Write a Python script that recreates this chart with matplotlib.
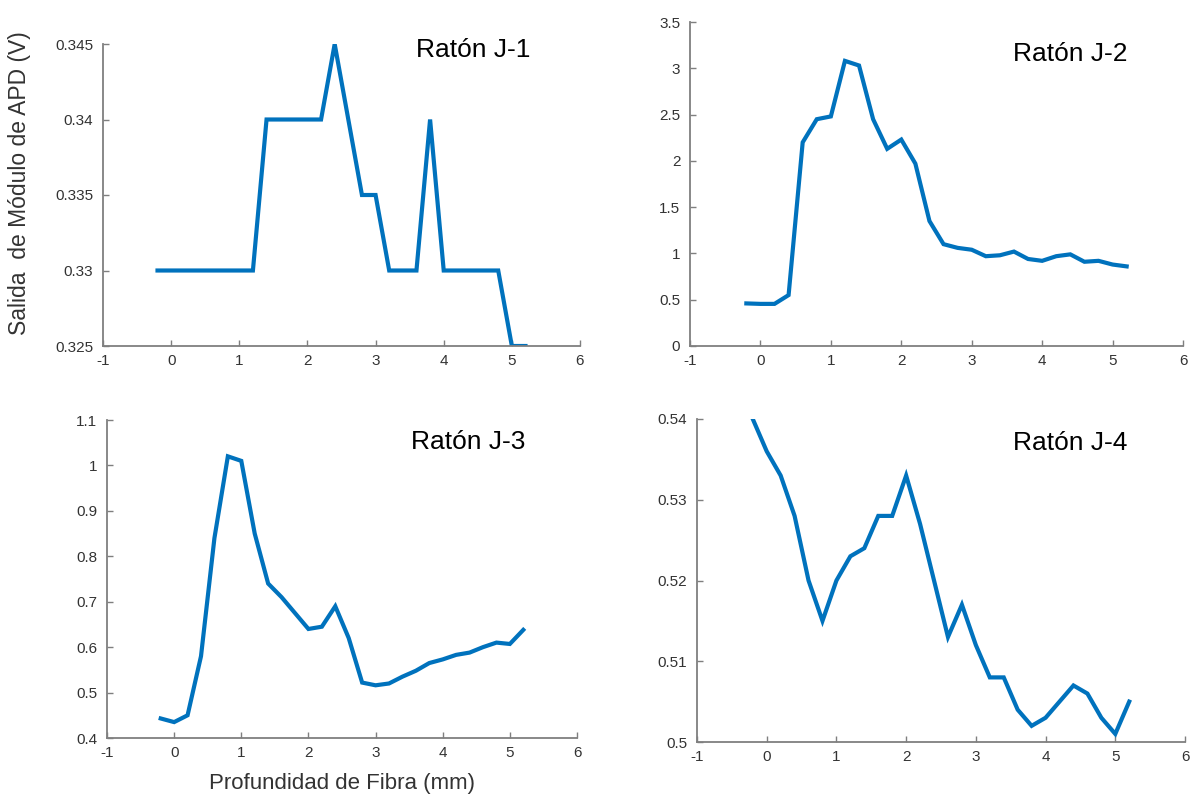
import matplotlib
matplotlib.use("Agg")
import matplotlib.pyplot as plt
import numpy as np

plt.rcParams['font.family'] = ['Liberation Sans', 'DejaVu Sans']

depth = [-0.2, 0.0, 0.2, 0.4, 0.6, 0.8, 1.0, 1.2, 1.4, 1.6, 1.8, 2.0, 2.2, 2.4,
         2.6, 2.8, 3.0, 3.2, 3.4, 3.6, 3.8, 4.0, 4.2, 4.4, 4.6, 4.8, 5.0, 5.2]

j1 = [0.33, 0.33, 0.33, 0.33, 0.33, 0.33, 0.33, 0.33, 0.34, 0.34, 0.34, 0.34, 0.34, 0.345,
      0.34, 0.335, 0.335, 0.33, 0.33, 0.33, 0.34, 0.33, 0.33, 0.33, 0.33, 0.33, 0.325, 0.325]
j2 = [0.46, 0.455, 0.455, 0.55, 2.2, 2.45, 2.48, 3.08, 3.03, 2.45, 2.13, 2.23, 1.97, 1.35,
      1.1, 1.06, 1.04, 0.97, 0.98, 1.02, 0.94, 0.92, 0.97, 0.99, 0.91, 0.92, 0.88, 0.86]
j3 = [0.443, 0.435, 0.45, 0.58, 0.84, 1.02, 1.01, 0.85, 0.74, 0.71, 0.675, 0.64, 0.645, 0.69,
      0.62, 0.522, 0.516, 0.52, 0.535, 0.548, 0.565, 0.573, 0.583, 0.588, 0.6, 0.61, 0.607, 0.638]
j4 = [0.54, 0.536, 0.533, 0.528, 0.52, 0.515, 0.52, 0.523, 0.524, 0.528, 0.528, 0.533, 0.527, 0.52,
      0.513, 0.517, 0.512, 0.508, 0.508, 0.504, 0.502, 0.503, 0.505, 0.507, 0.506, 0.503, 0.501, 0.505]

titles = ["Ratón J-1", "Ratón J-2", "Ratón J-3", "Ratón J-4"]
xticks = [-1, 0, 1, 2, 3, 4, 5, 6]
yticks_list = [
    [0.325, 0.33, 0.335, 0.34, 0.345],
    [0, 0.5, 1, 1.5, 2, 2.5, 3, 3.5],
    [0.4, 0.5, 0.6, 0.7, 0.8, 0.9, 1, 1.1],
    [0.5, 0.51, 0.52, 0.53, 0.54],
]
ylabels_list = [
    ["0.325", "0.33", "0.335", "0.34", "0.345"],
    ["0", "0.5", "1", "1.5", "2", "2.5", "3", "3.5"],
    ["0.4", "0.5", "0.6", "0.7", "0.8", "0.9", "1", "1.1"],
    ["0.5", "0.51", "0.52", "0.53", "0.54"],
]
series = [j1, j2, j3, j4]

W, H = 1192, 798
fig = plt.figure(figsize=(W / 100, H / 100), dpi=100)

# pixel boxes: left, right, top, bottom
boxes = [(103, 580, 44, 346), (690, 1183, 22, 346), (107, 577, 420, 738), (697, 1185, 419, 742)]
title_pos = [(0.776, 1.02), (0.771, 0.937), (0.768, 0.968), (0.764, 0.964)]

line_color = "#0072BD"
spine_color = "#7f7f7f"
label_color = "#333333"

for i, (l, r, t, b) in enumerate(boxes):
    ax = fig.add_axes([l / W, 1 - b / H, (r - l) / W, (b - t) / H])
    ax.plot(depth, series[i], color=line_color, lw=3.0, solid_joinstyle='miter')
    ax.set_xlim(-1, 6)
    yt = yticks_list[i]
    ax.set_ylim(yt[0], yt[-1])
    ax.set_xticks(xticks)
    ax.set_xticklabels([str(v) for v in xticks])
    ax.set_yticks(yt)
    ax.set_yticklabels(ylabels_list[i])
    for s in ["top", "right"]:
        ax.spines[s].set_visible(False)
    for s in ["left", "bottom"]:
        ax.spines[s].set_color(spine_color)
        ax.spines[s].set_linewidth(1.3)
    ax.tick_params(direction='in', length=4, width=1, color=spine_color,
                   labelcolor=label_color, labelsize=11)
    ax.tick_params(axis='x', pad=6)
    ax.tick_params(axis='y', pad=7)
    ax.text(title_pos[i][0], title_pos[i][1], titles[i], transform=ax.transAxes,
            ha='center', va='top', fontsize=19, color='black')
    ax.patch.set_visible(False)

fig.text(20 / W, 1 - 183 / H, "Salida  de Módulo de APD (V)", rotation=90,
         ha='center', va='center', fontsize=16.5, color=label_color)
fig.text(342 / W, 1 - 783 / H, "Profundidad de Fibra (mm)",
         ha='center', va='center', fontsize=16, color=label_color)

fig.savefig("out.png", dpi=100)
